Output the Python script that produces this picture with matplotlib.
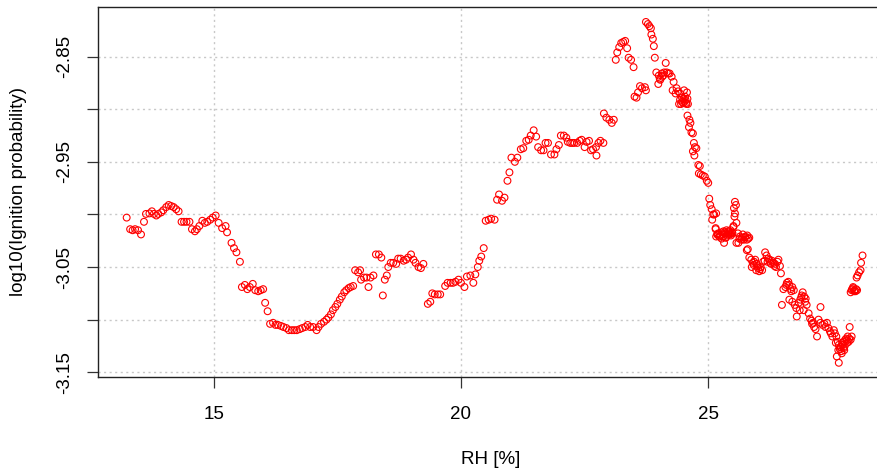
import numpy as np
import matplotlib.pyplot as plt

plt.rcParams['font.family'] = ['Liberation Sans', 'DejaVu Sans']

# RH [%] and log10(ignition probability)
rh_low = [13.24, 13.31, 13.36, 13.41, 13.47, 13.53, 13.59, 13.63, 13.70, 13.75,
          13.79, 13.84, 13.88, 13.94, 13.98, 14.04, 14.09, 14.14, 14.19, 14.24,
          14.29, 14.35, 14.40, 14.45, 14.51, 14.56, 14.62, 14.66, 14.71, 14.77,
          14.82, 14.87, 14.93, 14.98, 15.04, 15.10, 15.17, 15.24, 15.27, 15.36,
          15.41, 15.46, 15.53, 15.57, 15.63, 15.68, 15.73, 15.79, 15.84, 15.90,
          15.95, 16.00, 16.04, 16.09, 16.14, 16.20, 16.25, 16.30, 16.36, 16.41,
          16.47, 16.52, 16.58, 16.63, 16.68, 16.74, 16.79, 16.85, 16.90, 16.95,
          17.01, 17.08, 17.12, 17.17, 17.23, 17.28, 17.32, 17.37, 17.41, 17.46,
          17.50, 17.55, 17.59, 17.64, 17.68, 17.73, 17.77, 17.82]
lp_low = [-3.003, -3.014, -3.015, -3.014, -3.015, -3.019, -3.007, -2.9995, -2.999, -2.997,
          -2.9995, -3.001, -2.9995, -2.998, -2.996, -2.993, -2.991, -2.992, -2.993, -2.995,
          -2.997, -3.007, -3.007, -3.007, -3.007, -3.014, -3.016, -3.014, -3.011, -3.006,
          -3.008, -3.007, -3.005, -3.003, -3.001, -3.008, -3.013, -3.011, -3.017, -3.027,
          -3.032, -3.036, -3.045, -3.069, -3.067, -3.071, -3.069, -3.066, -3.072, -3.073,
          -3.072, -3.071, -3.084, -3.092, -3.104, -3.103, -3.105, -3.105, -3.106, -3.107,
          -3.108, -3.110, -3.110, -3.110, -3.110, -3.109, -3.108, -3.107, -3.105, -3.107,
          -3.107, -3.110, -3.107, -3.104, -3.102, -3.100, -3.098, -3.095, -3.091, -3.088,
          -3.085, -3.081, -3.078, -3.074, -3.072, -3.070, -3.069, -3.068]

rh_mid = [17.86, 17.92, 17.96, 17.98, 18.04, 18.09, 18.13, 18.17, 18.23, 18.28,
          18.34, 18.39, 18.42, 18.46, 18.50, 18.53, 18.58, 18.63, 18.69, 18.73,
          18.78, 18.84, 18.89, 18.93, 18.99, 19.04, 19.08, 19.14, 19.19, 19.24,
          19.33, 19.38, 19.42, 19.47, 19.53, 19.58, 19.68, 19.73, 19.79, 19.84,
          19.89, 19.95, 20.00, 20.07, 20.12, 20.19, 20.25, 20.29, 20.34, 20.37,
          20.41, 20.46, 20.50, 20.56, 20.61, 20.68, 20.73, 20.77, 20.83, 20.88,
          20.94, 20.98, 21.02, 21.09, 21.14, 21.21, 21.26, 21.32, 21.37, 21.41,
          21.47, 21.52, 21.56, 21.62, 21.67, 21.71, 21.76, 21.82, 21.89, 21.93,
          21.98, 22.02, 22.08, 22.13, 22.16, 22.21, 22.25, 22.29, 22.35, 22.40,
          22.44, 22.50, 22.54, 22.59, 22.63, 22.67, 22.73, 22.74, 22.78, 22.82,
          22.88, 22.89, 22.94, 23.00, 23.05, 23.09]
lp_mid = [-3.053, -3.055, -3.053, -3.062, -3.060, -3.060, -3.069, -3.060, -3.058, -3.038,
          -3.038, -3.041, -3.077, -3.062, -3.058, -3.050, -3.046, -3.046, -3.047, -3.042,
          -3.042, -3.044, -3.043, -3.041, -3.038, -3.043, -3.046, -3.050, -3.051, -3.047,
          -3.085, -3.083, -3.075, -3.076, -3.076, -3.076, -3.068, -3.065, -3.065, -3.065,
          -3.064, -3.062, -3.065, -3.069, -3.059, -3.058, -3.065, -3.057, -3.050, -3.044,
          -3.040, -3.032, -3.006, -3.005, -3.004, -3.005, -2.986, -2.981, -2.987, -2.984,
          -2.968, -2.960, -2.946, -2.950, -2.946, -2.938, -2.937, -2.930, -2.929, -2.925,
          -2.920, -2.926, -2.936, -2.939, -2.939, -2.932, -2.932, -2.943, -2.943, -2.938,
          -2.934, -2.925, -2.925, -2.927, -2.931, -2.932, -2.932, -2.932, -2.932, -2.930,
          -2.929, -2.936, -2.931, -2.930, -2.939, -2.938, -2.936, -2.944, -2.932, -2.930,
          -2.932, -2.904, -2.908, -2.910, -2.913, -2.910]

rh_peak = [23.13, 23.16, 23.20, 23.24, 23.28, 23.32, 23.36, 23.39, 23.44, 23.49,
           23.51, 23.55, 23.58, 23.62, 23.66, 23.72, 23.74, 23.74, 23.78, 23.81,
           23.84, 23.85, 23.88, 23.90, 23.92, 23.95, 23.99, 24.00, 24.03, 24.06,
           24.07, 24.11, 24.14, 24.16, 24.22, 24.26, 24.30, 24.28, 24.34, 24.39,
           24.43, 24.43, 24.47, 24.49, 24.51, 24.53, 24.54, 24.55, 24.57, 24.58,
           24.59, 24.45, 24.41, 24.58, 24.62, 24.64, 24.61, 24.66, 24.69, 24.71,
           24.73, 24.76, 24.69, 24.72, 24.80, 24.83, 24.81, 24.85, 24.89, 24.93,
           24.97, 25.00, 25.02, 25.04, 25.07, 25.10, 25.12, 25.16, 25.08, 25.15,
           25.18, 24.02, 24.09, 24.19, 24.36, 24.47, 24.52, 24.56, 24.50]
lp_peak = [-2.853, -2.846, -2.841, -2.837, -2.836, -2.835, -2.842, -2.851, -2.853, -2.860,
           -2.888, -2.889, -2.884, -2.878, -2.880, -2.879, -2.882, -2.817, -2.819, -2.821,
           -2.823, -2.829, -2.833, -2.840, -2.851, -2.865, -2.876, -2.868, -2.872, -2.866,
           -2.869, -2.865, -2.856, -2.865, -2.866, -2.869, -2.874, -2.882, -2.885, -2.883,
           -2.885, -2.891, -2.889, -2.894, -2.882, -2.888, -2.891, -2.894, -2.884, -2.890,
           -2.895, -2.895, -2.895, -2.906, -2.910, -2.913, -2.917, -2.922, -2.923, -2.932,
           -2.936, -2.937, -2.940, -2.944, -2.953, -2.954, -2.961, -2.962, -2.963, -2.964,
           -2.968, -2.970, -2.985, -2.991, -2.995, -3.000, -3.000, -2.999, -3.005, -3.013,
           -3.019, -2.871, -2.868, -2.866, -2.880, -2.893, -2.893, -2.895, -2.890]

rh_high = [25.54, 25.56, 25.52, 25.54, 25.53, 25.57, 25.51,
           25.15, 25.19, 25.23, 25.27, 25.30, 25.32, 25.34, 25.37, 25.40, 25.42,
           25.45, 25.48, 25.51, 25.16, 25.22, 25.27, 25.33, 25.38, 25.44, 25.49,
           25.20, 25.25, 25.29, 25.35, 25.41, 25.46, 25.31, 25.36, 25.43,
           25.57, 25.60, 25.64, 25.67, 25.70, 25.72, 25.75, 25.78, 25.81, 25.83,
           25.61, 25.80, 25.63, 25.69, 25.74, 25.79,
           25.83, 25.87, 25.90, 25.92, 25.95, 25.98, 26.01, 26.03, 26.06, 26.09,
           26.11, 26.15, 26.18, 26.21, 26.24, 26.26, 26.29, 26.32, 26.34, 26.37,
           26.40, 26.42, 26.45, 26.47, 25.88, 25.97, 26.14, 25.78,
           25.93, 25.99, 26.05, 26.20, 26.27, 26.35,
           26.49, 26.52, 26.56, 26.59, 26.62, 26.64, 26.67, 26.70, 26.73, 26.64,
           26.70, 26.75, 26.78, 26.79, 26.83, 26.86, 26.89, 26.91, 26.94, 26.97,
           26.99, 26.93, 26.85, 27.03, 27.06, 27.09, 27.12, 27.14, 27.17, 27.20,
           27.27, 26.58, 26.68, 26.88, 26.96, 27.10,
           27.23, 27.27, 27.31, 27.35, 27.37, 27.40, 27.43, 27.46, 27.48, 27.51,
           27.54, 27.56, 27.59, 27.62, 27.64, 27.67, 27.63, 27.58, 27.60, 27.64,
           27.68, 27.71, 27.74, 27.77, 27.79, 27.82, 27.85, 27.88, 27.86, 27.74,
           27.70, 27.81, 27.90, 27.66, 27.72, 27.76, 27.80, 27.84, 27.69, 27.75,
           27.88, 27.90, 27.93, 27.96, 27.98, 28.01, 27.93, 28.00, 28.02, 28.05,
           28.08, 28.09, 28.12, 27.91, 27.95, 27.99]
lp_high = [-2.988, -2.991, -2.994, -2.999, -3.002, -3.008, -3.011,
           -3.014, -3.019, -3.021, -3.017, -3.021, -3.027, -3.018, -3.015, -3.019, -3.017,
           -3.015, -3.017, -3.012, -3.021, -3.021, -3.023, -3.017, -3.020, -3.019, -3.018,
           -3.018, -3.020, -3.019, -3.022, -3.016, -3.020, -3.016, -3.022, -3.018,
           -3.027, -3.018, -3.021, -3.024, -3.019, -3.024, -3.021, -3.024, -3.023, -3.022,
           -3.027, -3.033, -3.023, -3.022, -3.022, -3.020,
           -3.041, -3.043, -3.046, -3.048, -3.043, -3.047, -3.051, -3.054, -3.050, -3.053,
           -3.045, -3.036, -3.039, -3.042, -3.043, -3.046, -3.044, -3.046, -3.049, -3.050,
           -3.045, -3.043, -3.049, -3.056, -3.050, -3.053, -3.044, -3.034,
           -3.045, -3.049, -3.052, -3.045, -3.047, -3.047,
           -3.086, -3.071, -3.069, -3.065, -3.064, -3.067, -3.071, -3.069, -3.072, -3.081,
           -3.083, -3.086, -3.089, -3.097, -3.084, -3.081, -3.077, -3.074, -3.078, -3.080,
           -3.086, -3.091, -3.091, -3.094, -3.099, -3.101, -3.103, -3.107, -3.109, -3.116,
           -3.088, -3.067, -3.073, -3.079, -3.083, -3.104,
           -3.100, -3.103, -3.105, -3.104, -3.107, -3.103, -3.108, -3.111, -3.113, -3.116,
           -3.110, -3.113, -3.116, -3.121, -3.124, -3.126, -3.129, -3.122, -3.135, -3.141,
           -3.126, -3.122, -3.121, -3.119, -3.118, -3.116, -3.118, -3.119, -3.107, -3.127,
           -3.132, -3.122, -3.116, -3.128, -3.124, -3.125, -3.120, -3.121, -3.130, -3.129,
           -3.074, -3.072, -3.070, -3.072, -3.073, -3.072, -3.069, -3.060, -3.058, -3.055,
           -3.053, -3.046, -3.039, -3.071, -3.073, -3.071]

rh = np.array(rh_low + rh_mid + rh_peak + rh_high)
logp = np.array(lp_low + lp_mid + lp_peak + lp_high)

x_ticks = [15, 20, 25]
y_ticks = [-2.85, -2.90, -2.95, -3.00, -3.05, -3.10, -3.15]
y_labels = ['-2.85', '', '-2.95', '', '-3.05', '', '-3.15']

fig = plt.figure(figsize=(8.78, 4.73), dpi=100)
ax = fig.add_axes([0.1116, 0.203, 0.895, 0.7822])

ax.scatter(rh, logp, s=24, facecolors='none', edgecolors='red', linewidths=0.8, zorder=3)

ax.set_xlim(12.66, 28.55)
ax.set_ylim(-3.1545, -2.8028)
ax.set_xticks(x_ticks)
ax.set_yticks(y_ticks)
ax.set_yticklabels(y_labels, rotation=90, va='center')
ax.tick_params(axis='both', length=8, width=0.9, labelsize=13.5, color='#333333')
ax.tick_params(axis='x', pad=13)
ax.tick_params(axis='y', pad=10)
ax.grid(True, linestyle=(0, (1.5, 2.5)), color='#c8c8c8', linewidth=1)
ax.set_axisbelow(True)
for sp in ax.spines.values():
    sp.set_color('#222222')
    sp.set_linewidth(1)

ax.set_xlabel('RH [%]', fontsize=13.5, labelpad=20)
ax.set_ylabel('log10(Ignition probability)', fontsize=13.5, labelpad=21)

fig.savefig('out.png', dpi=100)
